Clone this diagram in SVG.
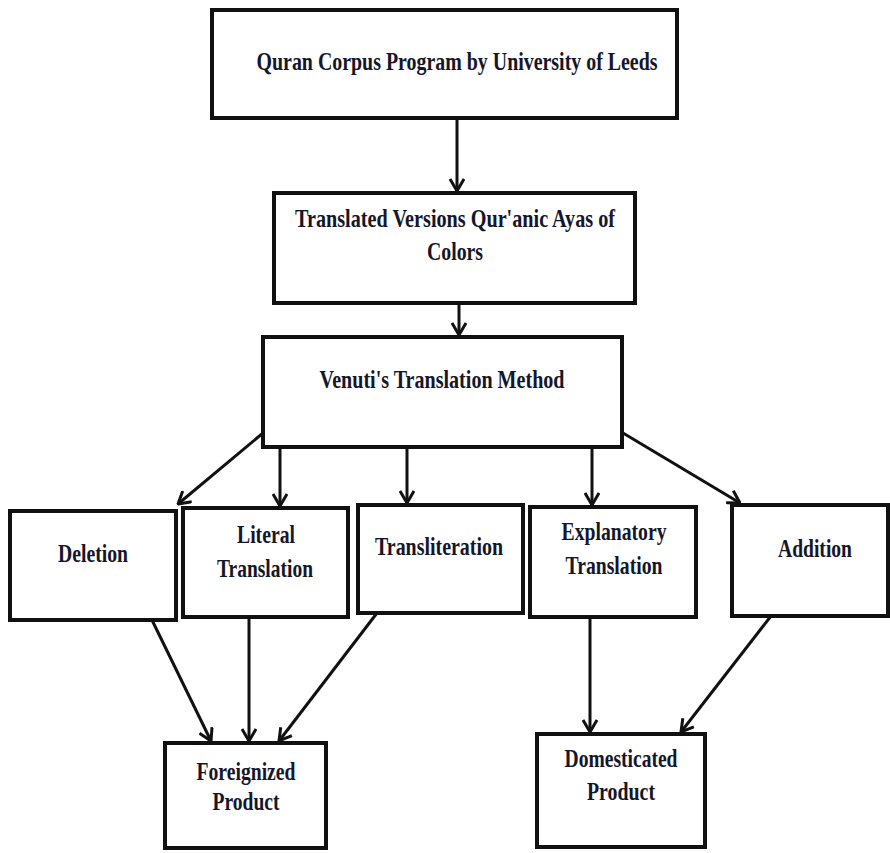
<svg xmlns="http://www.w3.org/2000/svg" width="890" height="853" viewBox="0 0 890 853">
<style>
.box{fill:#fff;stroke:#111;stroke-width:4}
.lbl{font-family:"Liberation Serif","Times New Roman",serif;font-weight:bold;font-size:25px;fill:#16162a;text-anchor:middle}
.con{stroke:#111;stroke-width:3;fill:none;marker-end:url(#arr)}
</style>
<defs>
<marker id="arr" viewBox="0 0 14 16" refX="13" refY="8" markerWidth="14" markerHeight="16" markerUnits="userSpaceOnUse" orient="auto">
<path d="M1,1 L13,8 L1,15" fill="none" stroke="#111" stroke-width="3"/>
</marker>
</defs>
<rect width="890" height="853" fill="#fff"/>
<g id="connectors">
<line class="con" x1="457" y1="118" x2="457" y2="191"/>
<line class="con" x1="459" y1="303" x2="459" y2="335"/>
<line class="con" x1="263" y1="433" x2="178" y2="504"/>
<line class="con" x1="280" y1="447" x2="280" y2="506"/>
<line class="con" x1="407" y1="447" x2="407" y2="503"/>
<line class="con" x1="592" y1="447" x2="592" y2="505"/>
<line class="con" x1="623" y1="433" x2="740" y2="503"/>
<line class="con" x1="151" y1="618" x2="211" y2="741"/>
<line class="con" x1="249" y1="617" x2="249" y2="741"/>
<line class="con" x1="377" y1="613" x2="279" y2="741"/>
<line class="con" x1="590" y1="617" x2="590" y2="732"/>
<line class="con" x1="771" y1="616" x2="681" y2="732"/>
</g>
<g id="quran">
<rect class="box" x="212" y="10" width="465" height="108"/>
<text class="lbl" x="457" y="70" textLength="401" lengthAdjust="spacingAndGlyphs">Quran Corpus Program by University of Leeds</text>
</g>
<g id="translated">
<rect class="box" x="274" y="193" width="361" height="110"/>
<text class="lbl" x="455" y="227" textLength="320" lengthAdjust="spacingAndGlyphs">Translated Versions Qur'anic Ayas of</text>
<text class="lbl" x="455" y="260" textLength="56" lengthAdjust="spacingAndGlyphs">Colors</text>
</g>
<g id="venuti">
<rect class="box" x="263" y="337" width="359" height="110"/>
<text class="lbl" x="442" y="388" textLength="245" lengthAdjust="spacingAndGlyphs">Venuti's Translation Method</text>
</g>
<g id="deletion">
<rect class="box" x="10" y="511" width="166" height="109"/>
<text class="lbl" x="93" y="562" textLength="70" lengthAdjust="spacingAndGlyphs">Deletion</text>
</g>
<g id="literal">
<rect class="box" x="183" y="508" width="165" height="109"/>
<text class="lbl" x="266" y="543" textLength="58" lengthAdjust="spacingAndGlyphs">Literal</text>
<text class="lbl" x="265" y="577" textLength="96" lengthAdjust="spacingAndGlyphs">Translation</text>
</g>
<g id="transliteration">
<rect class="box" x="358" y="505" width="165" height="108"/>
<text class="lbl" x="439" y="555" textLength="128" lengthAdjust="spacingAndGlyphs">Transliteration</text>
</g>
<g id="explanatory">
<rect class="box" x="530" y="507" width="166" height="110"/>
<text class="lbl" x="614" y="540" textLength="105" lengthAdjust="spacingAndGlyphs">Explanatory</text>
<text class="lbl" x="614" y="574" textLength="97" lengthAdjust="spacingAndGlyphs">Translation</text>
</g>
<g id="addition">
<rect class="box" x="732" y="505" width="156" height="111"/>
<text class="lbl" x="815" y="557" textLength="74" lengthAdjust="spacingAndGlyphs">Addition</text>
</g>
<g id="foreignized">
<rect class="box" x="165" y="743" width="161" height="105"/>
<text class="lbl" x="246" y="780" textLength="99" lengthAdjust="spacingAndGlyphs">Foreignized</text>
<text class="lbl" x="246" y="810" textLength="67" lengthAdjust="spacingAndGlyphs">Product</text>
</g>
<g id="domesticated">
<rect class="box" x="537" y="734" width="168" height="113"/>
<text class="lbl" x="621" y="767" textLength="113" lengthAdjust="spacingAndGlyphs">Domesticated</text>
<text class="lbl" x="621" y="800" textLength="68" lengthAdjust="spacingAndGlyphs">Product</text>
</g>
</svg>
